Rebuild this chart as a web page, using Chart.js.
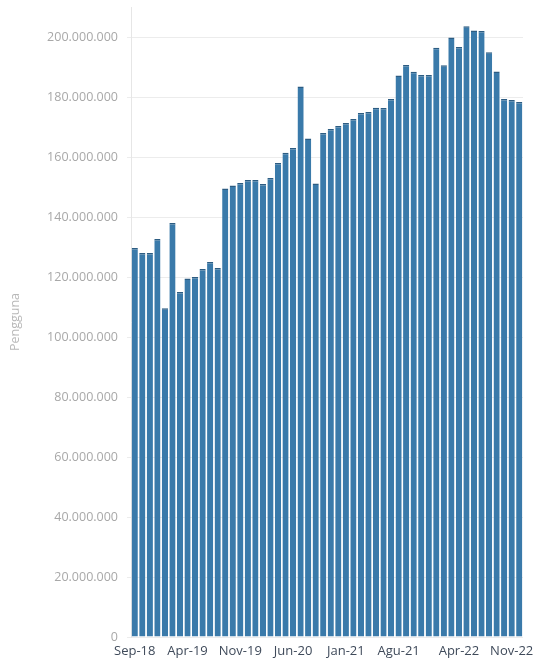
<!DOCTYPE html>
<html>
<head>
<meta charset="utf-8">
<script src="https://cdn.jsdelivr.net/npm/chart.js@4"></script>
<style>
  html, body { margin: 0; padding: 0; background: #fff; }
  #wrap { width: 536px; height: 665px; position: relative; }
</style>
</head>
<body>
<div id="wrap"><canvas id="c"></canvas></div>
<script>
// monthly users, Sep-18 .. Dec-22 (Indonesian month names)
const months = [
  'Sep-18', 'Okt-18', 'Nov-18', 'Des-18',
  'Jan-19', 'Feb-19', 'Mar-19', 'Apr-19', 'Mei-19', 'Jun-19', 'Jul-19', 'Agu-19', 'Sep-19', 'Okt-19', 'Nov-19', 'Des-19',
  'Jan-20', 'Feb-20', 'Mar-20', 'Apr-20', 'Mei-20', 'Jun-20', 'Jul-20', 'Agu-20', 'Sep-20', 'Okt-20', 'Nov-20', 'Des-20',
  'Jan-21', 'Feb-21', 'Mar-21', 'Apr-21', 'Mei-21', 'Jun-21', 'Jul-21', 'Agu-21', 'Sep-21', 'Okt-21', 'Nov-21', 'Des-21',
  'Jan-22', 'Feb-22', 'Mar-22', 'Apr-22', 'Mei-22', 'Jun-22', 'Jul-22', 'Agu-22', 'Sep-22', 'Okt-22', 'Nov-22', 'Des-22'
];

const users = [
  129700000, 128000000, 128000000, 132700000,
  109600000, 138000000, 115000000, 119500000, 120000000, 122700000, 125000000, 123000000, 149500000, 150500000, 151300000, 152300000,
  152300000, 151000000, 153000000, 158000000, 161400000, 163000000, 183500000, 166200000, 151200000, 168000000, 169300000, 170300000,
  171300000, 172700000, 174700000, 175000000, 176400000, 176300000, 179300000, 187200000, 190700000, 188400000, 187300000, 187300000,
  196400000, 190600000, 199800000, 196700000, 203600000, 202200000, 202000000, 194900000, 188500000, 179300000, 179000000, 178300000
];

// only these month labels are printed under the axis
const shownTicks = ['Sep-18', 'Apr-19', 'Nov-19', 'Jun-20', 'Jan-21', 'Agu-21', 'Apr-22', 'Nov-22'];

const yTicks = [0, 20000000, 40000000, 60000000, 80000000, 100000000, 120000000, 140000000, 160000000, 180000000, 200000000];

const fmt = v => v.toLocaleString('de-DE');

new Chart(document.getElementById('c'), {
  type: 'bar',
  data: {
    labels: months,
    datasets: [{
      label: 'Pengguna',
      data: users,
      backgroundColor: '#3a7aaa',
      borderColor: '#2c5c82',
      borderWidth: { top: 1.5, left: 0, right: 0, bottom: 0 },
      borderSkipped: 'bottom',
      categoryPercentage: 1,
      barPercentage: 0.82,
    }]
  },
  options: {
    responsive: true, maintainAspectRatio: false,
    animation: false,
    layout: { padding: { top: 7, right: 13, left: 0, bottom: 0 } },
    plugins: { legend: { display: false }, tooltip: { enabled: false } },
    scales: {
      x: {
        grid: { display: false, drawTicks: false },
        border: { display: false },
        afterFit: s => { s.height = 28; },
        ticks: {
          autoSkip: false, maxRotation: 0, minRotation: 0, padding: 6,
          color: '#3f4a5a',
          font: { family: 'Open Sans', size: 13 },
          callback: function (v) {
            const lab = this.getLabelForValue(v);
            return shownTicks.includes(lab) ? lab : '';
          }
        }
      },
      y: {
        min: 0, max: 210000000,
        // fixed width; top tick sits below the max, so no label padding needed
        afterFit: s => { s.width = 131; s.paddingTop = 0; s.paddingBottom = 0; },
        afterBuildTicks: s => { s.ticks = yTicks.map(v => ({ value: v })); },
        grid: { color: '#ececec', tickLength: 4, tickColor: '#ececec' },
        border: { display: true, color: '#e6e6e6' },
        ticks: {
          color: '#a8a8a8', padding: 9,
          font: { family: 'Open Sans', size: 12.5 },
          callback: v => fmt(v)
        },
        title: {
          display: true, text: 'Pengguna', color: '#b8b8b8',
          font: { family: 'Open Sans', size: 12.5 }, padding: { top: 8, bottom: 0 }
        }
      }
    }
  }
});
</script>
</body>
</html>
